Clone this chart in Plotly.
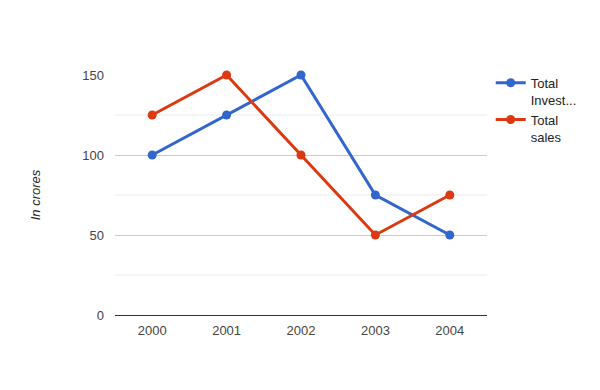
import plotly.graph_objects as go

years = ["2000", "2001", "2002", "2003", "2004"]
investment = [100, 125, 150, 75, 50]
sales = [125, 150, 100, 50, 75]
series_names = ["Total<br>Invest...", "Total<br>sales"]
colors = ["#3366cc", "#dc3912"]

fig = go.Figure()
for name, vals, c in zip(series_names, [investment, sales], colors):
    fig.add_trace(go.Scatter(
        x=years, y=vals, name=name, mode="lines+markers",
        line=dict(color=c, width=3),
        marker=dict(color=c, size=9),
        cliponaxis=False,
    ))

# minor gridlines
for v in [25, 75, 125]:
    fig.add_shape(type="line", xref="paper", x0=0, x1=1, yref="y", y0=v, y1=v,
                  line=dict(color="#ebebeb", width=1), layer="below")

fig.update_layout(
    width=600, height=390,
    margin=dict(l=115, r=113, t=75, b=75),
    paper_bgcolor="white", plot_bgcolor="white",
    font=dict(family="Arial, Liberation Sans, sans-serif", size=13, color="#444"),
    showlegend=True,
    legend=dict(x=1.01, y=1.03, xanchor="left", yanchor="top",
                font=dict(size=13, color="#222"), tracegroupgap=6,
                itemwidth=30, valign="top"),
    xaxis=dict(type="category", range=[-0.5, 4.5], showgrid=False, showline=False,
               ticks="", ticklabelstandoff=6,
               tickfont=dict(size=13, color="#444")),
    yaxis=dict(range=[0, 150], tickvals=[0, 50, 100, 150], showgrid=True,
               gridcolor="#cccccc", zeroline=True, zerolinecolor="#333",
               zerolinewidth=1, ticks="", ticklabelstandoff=10,
               tickfont=dict(size=13, color="#444"),
               title=dict(text="<i>In crores</i>", font=dict(size=13, color="#222"),
                          standoff=38)),
)

fig.write_html("out.html")
